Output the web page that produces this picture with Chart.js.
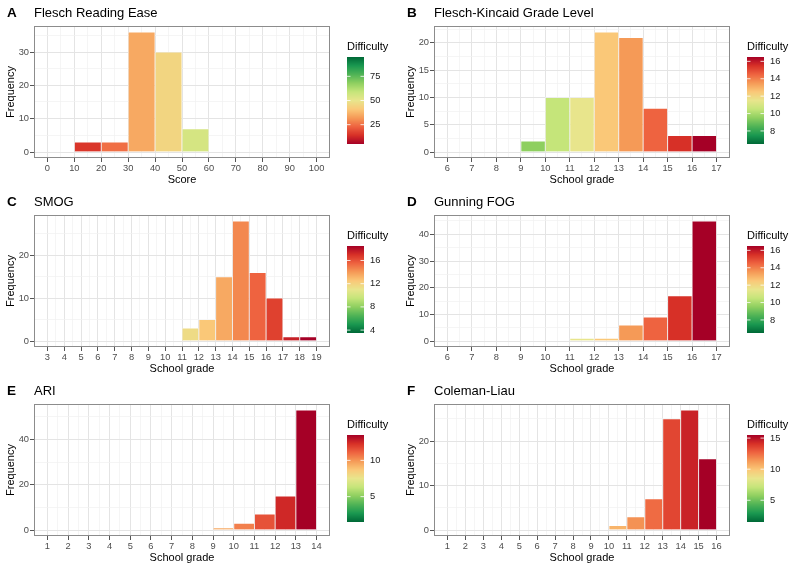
<!DOCTYPE html>
<html>
<head>
<meta charset="utf-8">
<script src="https://cdn.jsdelivr.net/npm/chart.js@4.4.0/dist/chart.umd.min.js"></script>
<style>
  body { margin: 0; background: #fff; }
  #grid { position: relative; width: 800px; height: 567px; }
  #grid canvas { position: absolute; }
</style>
</head>
<body>
<div id="grid"></div>
<script>
// panel labels
const panelLetters = ['A', 'B', 'C', 'D', 'E', 'F'];
const panelTitles = ['Flesch Reading Ease', 'Flesch-Kincaid Grade Level', 'SMOG', 'Gunning FOG', 'ARI', 'Coleman-Liau'];
const xAxisTitles = ['Score', 'School grade', 'School grade', 'School grade', 'School grade', 'School grade'];

// A - Flesch Reading Ease
const freBreaks = [0, 10, 20, 30, 40, 50, 60, 70, 80, 90, 100];
const freCounts = [0, 3, 3, 36, 30, 7, 0, 0, 0, 0];
const freYTicks = [0, 10, 20, 30];
const freLegend = [25, 50, 75];

// B - Flesch-Kincaid
const fkBreaks = [6, 7, 8, 9, 10, 11, 12, 13, 14, 15, 16, 17];
const fkCounts = [0, 0, 0, 2, 10, 10, 22, 21, 8, 3, 3];
const fkYTicks = [0, 5, 10, 15, 20];
const fkLegend = [8, 10, 12, 14, 16];

// C - SMOG
const smogBreaks = [3, 4, 5, 6, 7, 8, 9, 10, 11, 12, 13, 14, 15, 16, 17, 18, 19];
const smogCounts = [0, 0, 0, 0, 0, 0, 0, 0, 3, 5, 15, 28, 16, 10, 1, 1];
const smogYTicks = [0, 10, 20];
const smogLegend = [4, 8, 12, 16];

// D - Gunning FOG
const fogBreaks = [6, 7, 8, 9, 10, 11, 12, 13, 14, 15, 16, 17];
const fogCounts = [0, 0, 0, 0, 0, 1, 1, 6, 9, 17, 45];
const fogYTicks = [0, 10, 20, 30, 40];
const fogLegend = [8, 10, 12, 14, 16];

// E - ARI
const ariBreaks = [1, 2, 3, 4, 5, 6, 7, 8, 9, 10, 11, 12, 13, 14];
const ariCounts = [0, 0, 0, 0, 0, 0, 0, 0, 1, 3, 7, 15, 53];
const ariYTicks = [0, 20, 40];
const ariLegend = [5, 10];

// F - Coleman-Liau
const clBreaks = [1, 2, 3, 4, 5, 6, 7, 8, 9, 10, 11, 12, 13, 14, 15, 16];
const clCounts = [0, 0, 0, 0, 0, 0, 0, 0, 0, 1, 3, 7, 25, 27, 16];
const clYTicks = [0, 10, 20];
const clLegend = [5, 10, 15];

const panels = [
  { breaks: freBreaks, counts: freCounts, yTicks: freYTicks, legend: freLegend, greenHigh: true },
  { breaks: fkBreaks, counts: fkCounts, yTicks: fkYTicks, legend: fkLegend, greenHigh: false },
  { breaks: smogBreaks, counts: smogCounts, yTicks: smogYTicks, legend: smogLegend, greenHigh: false },
  { breaks: fogBreaks, counts: fogCounts, yTicks: fogYTicks, legend: fogLegend, greenHigh: false },
  { breaks: ariBreaks, counts: ariCounts, yTicks: ariYTicks, legend: ariLegend, greenHigh: false },
  { breaks: clBreaks, counts: clCounts, yTicks: clYTicks, legend: clLegend, greenHigh: false }
];

const FONT = "'Liberation Sans', Arial, Helvetica, sans-serif";
Chart.defaults.font.family = FONT;

// red -> yellow -> green ramp, tuned to the printed figure
const ramp = ['#a50026', '#d73027', '#ee6340', '#f59a57', '#fac878', '#e8e58c',
              '#c5e57a', '#8ecf60', '#4fb356', '#1a9850', '#006837'];
const rgbList = ramp.map(h => [1, 3, 5].map(k => parseInt(h.substr(k, 2), 16)));

function paletteColor(t) {
  t = Math.max(0, Math.min(1, t));
  const pos = t * (rgbList.length - 1);
  const i = Math.min(Math.floor(pos), rgbList.length - 2);
  const f = pos - i;
  const c = rgbList[i].map((v, k) => Math.round(v + (rgbList[i + 1][k] - v) * f));
  return `rgb(${c[0]},${c[1]},${c[2]})`;
}

function fillFor(v, lo, hi, greenHigh) {
  let t = (v - lo) / (hi - lo);
  if (!greenHigh) t = 1 - t;
  return paletteColor(t);
}

const near = (list, v) => list.some(m => Math.abs(m - v) < 1e-9);

const decor = {
  id: 'decor',
  afterDraw(chart, args, o) {
    const ctx = chart.ctx;
    const a = chart.chartArea;
    ctx.save();
    // panel border
    ctx.strokeStyle = '#8c8c8c';
    ctx.lineWidth = 1;
    ctx.strokeRect(Math.round(a.left) + 0.5, Math.round(a.top) + 0.5,
                   Math.round(a.right - a.left) - 1, Math.round(a.bottom - a.top) - 1);

    // panel letter + title
    ctx.fillStyle = '#000';
    ctx.textBaseline = 'middle';
    ctx.textAlign = 'left';
    ctx.font = 'bold 13.5px ' + FONT;
    ctx.fillText(o.letter, 7, 13);
    ctx.font = '13px ' + FONT;
    ctx.fillText(o.title, 34, 13);

    // colour bar legend
    const bx = 347, bw = 17, bt = 57, bb = 144;
    ctx.font = '11px ' + FONT;
    ctx.fillText('Difficulty', bx, 47);
    for (let py = bt; py < bb; py++) {
      const v = o.lo + (bb - py - 0.5) / (bb - bt) * (o.hi - o.lo);
      ctx.fillStyle = fillFor(v, o.lo, o.hi, o.greenHigh);
      ctx.fillRect(bx, py, bw, 1);
    }
    ctx.font = '9.3px ' + FONT;
    ctx.fillStyle = '#1a1a1a';
    ctx.strokeStyle = '#fff';
    ctx.lineWidth = 0.8;
    o.legend.forEach(v => {
      const y = bb - (v - o.lo) / (o.hi - o.lo) * (bb - bt);
      ctx.beginPath();
      ctx.moveTo(bx, y); ctx.lineTo(bx + 3.5, y);
      ctx.moveTo(bx + bw - 3.5, y); ctx.lineTo(bx + bw, y);
      ctx.stroke();
      ctx.fillText(String(v), bx + bw + 6, y);
    });
    ctx.restore();
  }
};

function makeChart(p, i) {
  const canvas = document.createElement('canvas');
  canvas.width = 400;
  canvas.height = 189;
  canvas.style.left = (i % 2) * 400 + 'px';
  canvas.style.top = Math.floor(i / 2) * 189 + 'px';
  document.getElementById('grid').appendChild(canvas);

  const centers = p.counts.map((c, k) => (p.breaks[k] + p.breaks[k + 1]) / 2);
  const lo = centers[0], hi = centers[centers.length - 1];
  const first = p.breaks[0], last = p.breaks[p.breaks.length - 1];
  const xSpan = last - first;
  const xMin = first - 0.05 * xSpan, xMax = last + 0.05 * xSpan;
  const top = Math.max(...p.counts);
  const yMin = -0.05 * top, yMax = 1.05 * top;

  const xMinor = centers;
  const yStep = p.yTicks[1] - p.yTicks[0];
  const yMinor = p.yTicks.map(v => v + yStep / 2).filter(v => v < yMax);

  const gridOpts = majors => ({
    offset: false,
    color: c => near(majors, c.tick.value) ? '#e4e4e4' : '#f0f0f0',
    lineWidth: c => near(majors, c.tick.value) ? 1 : 0.7,
    tickColor: c => near(majors, c.tick.value) ? '#555' : 'rgba(0,0,0,0)',
    tickLength: 4,
    tickWidth: 1
  });

  new Chart(canvas.getContext('2d'), {
    type: 'bar',
    data: {
      datasets: [{
        data: centers.map((c, k) => ({ x: c, y: p.counts[k] })),
        backgroundColor: centers.map(c => fillFor(c, lo, hi, p.greenHigh)),
        borderColor: 'rgba(255,255,255,0.35)',
        borderWidth: 0.8,
        borderSkipped: 'bottom',
        barThickness: 'flex',
        barPercentage: 1,
        categoryPercentage: 1
      }]
    },
    options: {
      responsive: false,
      animation: false,
      events: [],
      layout: { padding: { left: 0, top: 26, right: 70, bottom: 0 } },
      plugins: {
        legend: { display: false },
        tooltip: { enabled: false },
        decor: { letter: panelLetters[i], title: panelTitles[i], legend: p.legend, lo: lo, hi: hi, greenHigh: p.greenHigh }
      },
      scales: {
        x: {
          type: 'linear',
          min: xMin,
          max: xMax,
          offset: false,
          afterBuildTicks: ax => {
            ax.ticks = p.breaks.concat(xMinor).sort((a, b) => a - b).map(v => ({ value: v }));
          },
          afterFit: ax => { ax.height = 31; },
          grid: gridOpts(p.breaks),
          border: { display: false },
          ticks: {
            autoSkip: false,
            maxRotation: 0,
            padding: 1,
            color: '#4d4d4d',
            font: { size: 9.3 },
            callback: v => near(p.breaks, v) ? String(v) : ''
          },
          title: { display: true, text: xAxisTitles[i], color: '#000', font: { size: 11 }, padding: { top: 0, bottom: 2 } }
        },
        y: {
          type: 'linear',
          min: yMin,
          max: yMax,
          afterBuildTicks: ax => {
            ax.ticks = p.yTicks.concat(yMinor).sort((a, b) => a - b).map(v => ({ value: v }));
          },
          afterFit: ax => { ax.width = 34; },
          grid: gridOpts(p.yTicks),
          border: { display: false },
          ticks: {
            autoSkip: false,
            padding: 1,
            color: '#4d4d4d',
            font: { size: 9.3 },
            callback: v => near(p.yTicks, v) ? String(v) : ''
          },
          title: { display: true, text: 'Frequency', color: '#000', font: { size: 11 }, padding: { top: 4, bottom: 0 } }
        }
      }
    },
    plugins: [decor]
  });
}

panels.forEach(makeChart);
</script>
</body>
</html>
